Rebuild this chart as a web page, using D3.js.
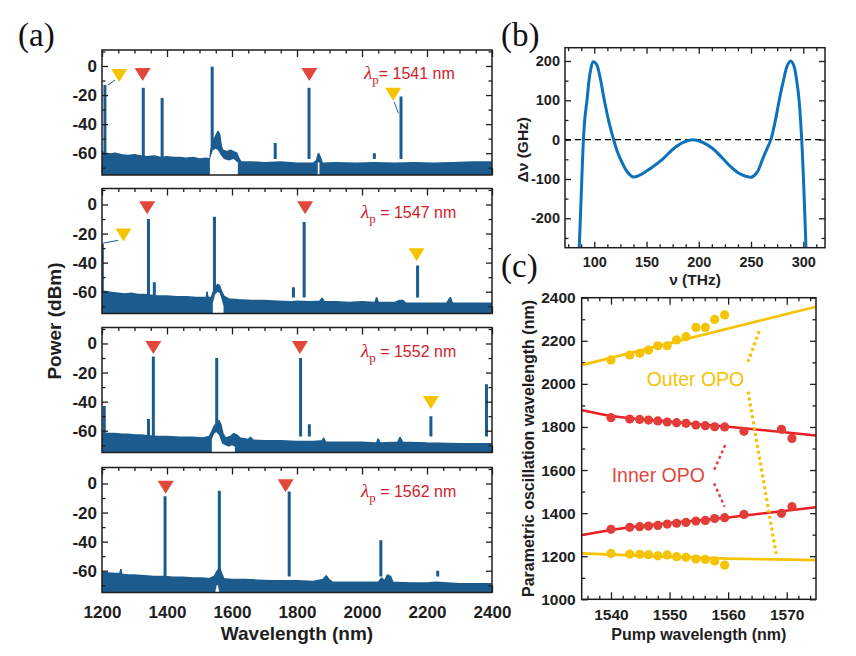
<!DOCTYPE html>
<html>
<head>
<meta charset="utf-8">
<script src="https://cdn.jsdelivr.net/npm/d3@7"></script>
<style>
  body { margin: 0; background: #fff; }
  svg text { font-family: "Liberation Sans", Arial, sans-serif; }
</style>
</head>
<body>
<script>
// ---------- panel (a): spectra, one set of arrays per pump wavelength ----------
var pumpLabels = ["= 1541 nm", " = 1547 nm", " = 1552 nm", " = 1562 nm"];

// noise floor upper envelope [wavelength nm, dBm]
var floor1 = [[1200,-59],[1210,-60],[1225,-60.5],[1240,-60],[1260,-61],[1280,-61.5],[1300,-61],[1320,-62],[1340,-62.5],[1360,-62],[1380,-63],[1400,-62.5],[1420,-63],[1440,-63],[1460,-63.5],[1480,-63],[1500,-64],[1520,-63.5],[1532,-64],[1535,-58],[1541,-52],[1550,-48],[1557,-45],[1562,-47],[1567,-55],[1572,-58],[1585,-59],[1595,-58],[1605,-59],[1615,-60],[1622,-64],[1628,-66],[1660,-66],[1700,-66.5],[1750,-66],[1800,-67],[1850,-67],[1860,-65],[1866,-60],[1872,-63],[1878,-67],[1920,-66.5],[1980,-67],[2040,-66.5],[2100,-67],[2160,-66.5],[2220,-67],[2280,-66.5],[2340,-66],[2400,-66]];
var floor2 = [[1200,-59.5],[1215,-60],[1230,-60.5],[1250,-61],[1270,-61.5],[1290,-61],[1310,-62],[1330,-62],[1350,-62.5],[1370,-63],[1400,-63],[1430,-63.5],[1460,-63.5],[1490,-64],[1515,-64],[1521,-64],[1523,-60],[1526,-64],[1536,-64],[1541,-61],[1548,-57],[1556,-55],[1562,-56],[1568,-60],[1575,-63],[1590,-65],[1620,-65.5],[1660,-66],[1700,-66],[1740,-66.5],[1780,-67],[1800,-66.5],[1840,-67],[1870,-66.5],[1877,-64.5],[1884,-67],[1920,-67],[1960,-67.5],[2000,-67],[2040,-67.5],[2045,-64],[2050,-67.5],[2100,-67.5],[2115,-66],[2125,-66],[2135,-68],[2200,-68],[2260,-68],[2272,-64],[2278,-68],[2340,-68],[2400,-68]];
var floor3 = [[1200,-61.5],[1220,-62],[1240,-62],[1260,-62.5],[1280,-62.5],[1300,-63],[1320,-63],[1340,-63.5],[1370,-64],[1400,-64],[1440,-64.5],[1480,-64.5],[1510,-65],[1530,-64],[1537,-61],[1545,-57],[1552,-55],[1560,-53],[1566,-56],[1572,-62],[1580,-65],[1595,-64],[1605,-62],[1615,-63],[1625,-65],[1650,-66],[1657,-64.5],[1665,-66.5],[1700,-67],[1750,-67],[1800,-67.5],[1850,-67.5],[1878,-67],[1882,-65],[1888,-68],[1950,-68],[2000,-68],[2045,-68.5],[2050,-65.5],[2055,-68.5],[2110,-68],[2117,-64.5],[2125,-68],[2200,-68.5],[2300,-69],[2400,-69]];
var floor4 = [[1200,-61],[1220,-61.5],[1240,-62],[1255,-62],[1258,-59],[1261,-62.5],[1280,-63],[1300,-63],[1330,-63.5],[1360,-64],[1390,-64],[1420,-64.5],[1450,-64.5],[1480,-65],[1510,-65],[1530,-65.5],[1545,-64],[1555,-60],[1562,-58],[1568,-62],[1575,-65.5],[1600,-66],[1640,-66],[1680,-66.5],[1720,-67],[1760,-67],[1800,-67],[1850,-67.5],[1880,-66],[1890,-63.5],[1898,-66],[1910,-68],[1960,-68],[2000,-68],[2050,-68],[2060,-65],[2070,-67],[2078,-63],[2088,-64],[2095,-68],[2150,-68.5],[2200,-68.5],[2228,-68],[2300,-69],[2400,-69]];

// white holes under the noise trace (top edge of the hole)
var gaps1 = [[[1532,-64],[1535,-62],[1541,-58],[1550,-57],[1557,-58],[1565,-61],[1575,-64],[1590,-65],[1605,-64],[1616,-66],[1618,-66]], [[1864,-67],[1866,-66],[1869,-67]]];
var gaps2 = [[[1541,-68],[1548,-62],[1556,-60],[1562,-61],[1568,-65],[1574,-70]]];
var gaps3 = [[[1538,-66],[1545,-62],[1552,-61],[1560,-63],[1570,-69],[1590,-71],[1600,-70],[1609,-71]]];
var gaps4 = [[[1549,-74],[1553,-70],[1557,-70],[1560,-74]]];

// narrow lines [wavelength nm, peak dBm]
var peaks1 = [[1209,-13],[1327,-15],[1385,-22],[1539,-0.5],[1733,-53],[1837,-15],[2038,-60],[2120,-21]];
var peaks2 = [[1201,-27],[1343,-10],[1361,-53.5],[1546,-8.5],[1789,-57],[1822,-12],[2171,-42]];
var peaks3 = [[1207,-43],[1343,-52],[1358,-9],[1553,-10],[1811,-10],[1838,-55.5],[2212,-50],[2263,-64],[2383,-28]];
var peaks4 = [[1394,-8.7],[1561,-5],[1776,-5.5],[2058,-39],[2233,-60]];

// triangle markers (tip position) and pointer lines
var red1 = [[1325,-10.3],[1838,-10.3]], yellow1 = [[1253,-11],[2096,-24]];
var red2 = [[1339,-6.7],[1825,-6.7]], yellow2 = [[1266,-25.4],[2168,-39]];
var red3 = [[1358,-7.3],[1809,-7.3]], yellow3 = [[2212,-45]];
var red4 = [[1396,-7],[1765,-6]], yellow4 = [];
var links1 = [[1240,-9.7,1219,-13],[2099,-24.6,2112,-32.6]];
var links2 = [[1250,-24.7,1204,-26.5]];

// ---------- panel (b): dispersion curve ----------
var nuTHz  = [85.6,87.5,89.6,91,93,96,99,102,105,109.6,114,118.5,122,126,131,137,143,150,158,166,175,185,194,203,213,223,231,238,245,251,256,261,265,269,273,277,281,285,288,291,294,296,298.5,300.5,302.6];
var dnuGHz = [-276,-140,0,55,100,170,198,192,165,100,45,0,-30,-55,-80,-95,-91,-80,-65,-48,-25,-7,0,-6,-22,-48,-70,-85,-93,-95,-82,-50,-25,0,45,100,150,190,200,188,145,100,0,-120,-276];

// ---------- panel (c): oscillation wavelengths ----------
var pumpOuter = [1540.0,1543.2,1544.9,1546.4,1548.0,1549.6,1551.2,1552.8,1554.5,1556.1,1557.7,1559.4];
var outerHi   = [2111,2134,2142,2157,2177,2177,2204,2219,2262,2262,2299,2320];
var outerLo   = [1213,1210,1209,1207,1202,1206,1198,1195,1187,1185,1178,1159];
var pumpInner = [1540.0,1543.2,1544.9,1546.4,1548.0,1549.6,1551.2,1552.8,1554.5,1556.1,1557.7,1559.4,1562.7,1569.1,1570.9];
var innerHi   = [1843,1837,1835,1832,1828,1823,1820,1817,1809,1806,1801,1800,1780,1789,1747];
var innerLo   = [1325,1334,1337,1340,1343,1349,1353,1357,1363,1366,1375,1379,1394,1399,1430];
var fitOuterHi = [[1535,2087],[1575,2358]];
var fitInnerHi = [[1535,1878],[1540,1852],[1550,1824],[1560,1801],[1575,1760]];
var fitInnerLo = [[1535,1298],[1540,1322],[1560,1380],[1575,1427]];
var fitOuterLo = [[1535,1213],[1550,1197],[1560,1189],[1575,1182]];
var guideOuter = [[1565.3,2245,1563.4,2103],[1563.4,1964,1568.2,1210]];
var guideInner = [[1559.5,1716,1557.6,1600],[1557.6,1538,1559.4,1430]];

var blue = "#1c5b8d", red = "#e2483a", yellow = "#f5c300", labelRed = "#d0212b";
var ink = "#1e1e1e";

var svg = d3.select("body").append("svg")
    .attr("width", 856)
    .attr("height", 656)
    .style("background", "#fff");

// inward ticks on one side; labels optional
function tickSide(g, scale, side, vals, size, w, h, fmt, fs, pad) {
    var make = { bottom: d3.axisBottom, top: d3.axisTop, left: d3.axisLeft, right: d3.axisRight }[side];
    var ax = make(scale).tickValues(vals).tickSizeInner(-size).tickSizeOuter(0)
        .tickPadding(pad || 0).tickFormat(fmt || "");
    var t = g.append("g")
        .attr("transform", side == "bottom" ? "translate(0," + h + ")" : side == "right" ? "translate(" + w + ",0)" : null)
        .call(ax);
    t.select(".domain").remove();
    t.selectAll("line").attr("stroke", ink).attr("stroke-width", 1.3);
    t.selectAll("text").attr("font-size", fs).attr("font-weight", "bold").attr("fill", ink)
        .style("font-family", "'Liberation Sans', Arial, sans-serif");
    return t;
}
function minors(lo, hi, step, majorStep) {
    return d3.range(lo, hi + 1e-9, step).filter(function (v) { return Math.abs(v / majorStep - Math.round(v / majorStep)) > 1e-6; });
}
var str = function (d) { return String(d); };

// ---------- (a) ----------
var A = { left: 102, w: 390, h: 125, tops: [50, 188.5, 327.5, 467.5] };
var xA = d3.scaleLinear().domain([1200, 2400]).range([0, A.w]);
var yA = d3.scaleLinear().domain([-75, 11]).range([A.h, 0]);
var spectra = [
    { floor: floor1, gaps: gaps1, peaks: peaks1, red: red1, yellow: yellow1, links: links1 },
    { floor: floor2, gaps: gaps2, peaks: peaks2, red: red2, yellow: yellow2, links: links2 },
    { floor: floor3, gaps: gaps3, peaks: peaks3, red: red3, yellow: yellow3, links: [] },
    { floor: floor4, gaps: gaps4, peaks: peaks4, red: red4, yellow: yellow4, links: [] }
];
var xMajA = d3.range(1200, 2401, 200), xMinA = minors(1200, 2400, 50, 200);
var yMajA = [-60, -40, -20, 0], yMinA = [-70, -50, -30, -10, 10];

svg.append("defs").append("clipPath").attr("id", "clipA")
    .append("rect").attr("width", A.w).attr("height", A.h);

var floorArea = d3.area()
    .x(function (d) { return xA(d[0]); })
    .y0(yA(-80))
    .y1(function (d) { return yA(d[1]); });
var tri = "M-8,-13L8,-13L0,0Z";

spectra.forEach(function (s, i) {
    var g = svg.append("g").attr("transform", "translate(" + A.left + "," + A.tops[i] + ")");
    var last = i == 3;
    // bottom ticks sit under the trace
    tickSide(g, xA, "bottom", xMajA, 7, A.w, A.h, last ? str : "", 17, 13);
    tickSide(g, xA, "bottom", xMinA, 3.5, A.w, A.h);

    var plot = g.append("g").attr("clip-path", "url(#clipA)");
    plot.append("path").datum(s.floor)
        .attr("d", floorArea).attr("fill", blue)
        .attr("stroke", blue).attr("stroke-width", 1.5).attr("stroke-linejoin", "bevel");
    plot.selectAll(".peak").data(s.peaks).enter().append("line")
        .attr("x1", function (d) { return xA(d[0]); })
        .attr("x2", function (d) { return xA(d[0]); })
        .attr("y1", function (d) { return yA(d[1]); })
        .attr("y2", yA(-64))
        .attr("stroke", blue).attr("stroke-width", 3);
    s.gaps.forEach(function (gp) {
        plot.append("path").datum(gp).attr("d", floorArea).attr("fill", "#fff");
    });
    plot.selectAll(".link").data(s.links).enter().append("line")
        .attr("x1", function (d) { return xA(d[0]); })
        .attr("y1", function (d) { return yA(d[1]); })
        .attr("x2", function (d) { return xA(d[2]); })
        .attr("y2", function (d) { return yA(d[3]); })
        .attr("stroke", blue).attr("stroke-width", 1);

    g.selectAll(".tr").data(s.red).enter().append("path")
        .attr("d", tri).attr("fill", red)
        .attr("transform", function (d) { return "translate(" + xA(d[0]) + "," + yA(d[1]) + ")"; });
    g.selectAll(".ty").data(s.yellow).enter().append("path")
        .attr("d", tri).attr("fill", yellow)
        .attr("transform", function (d) { return "translate(" + xA(d[0]) + "," + yA(d[1]) + ")"; });

    tickSide(g, xA, "top", xMajA, 7, A.w, A.h);
    tickSide(g, xA, "top", xMinA, 3.5, A.w, A.h);
    tickSide(g, yA, "left", yMajA, 6, A.w, A.h, str, 17, 5);
    tickSide(g, yA, "left", yMinA, 3.5, A.w, A.h);
    tickSide(g, yA, "right", yMajA, 6, A.w, A.h);
    tickSide(g, yA, "right", yMinA, 3.5, A.w, A.h);
    g.append("rect").attr("width", A.w).attr("height", A.h)
        .attr("fill", "none").attr("stroke", ink).attr("stroke-width", 1.5);

    var lab = g.append("text").attr("x", i == 0 ? 262 : 259).attr("y", 29).attr("fill", labelRed);
    lab.append("tspan").text("λ")
        .style("font-family", "'Liberation Serif', 'Times New Roman', serif")
        .attr("font-style", "italic").attr("font-size", 19);
    lab.append("tspan").text("p").attr("dy", 5)
        .style("font-family", "'Liberation Serif', 'Times New Roman', serif").attr("font-size", 13);
    lab.append("tspan").text(pumpLabels[i]).attr("dy", -5).attr("font-size", 16)
        .style("white-space", "pre");
});

svg.append("text").attr("transform", "translate(61,321) rotate(-90)")
    .attr("text-anchor", "middle").attr("font-size", 19).attr("font-weight", "bold").attr("fill", ink)
    .text("Power (dBm)");
svg.append("text").attr("x", A.left + A.w / 2).attr("y", 640)
    .attr("text-anchor", "middle").attr("font-size", 19).attr("font-weight", "bold").attr("fill", ink)
    .text("Wavelength (nm)");

// ---------- (b) ----------
var B = { left: 565, top: 47.7, w: 260, h: 200 };
var xB = d3.scaleLinear().domain([71.96, 320.8]).range([0, B.w]);
var yB = d3.scaleLinear().domain([-274.8, 233.8]).range([B.h, 0]);
var gB = svg.append("g").attr("transform", "translate(" + B.left + "," + B.top + ")");
gB.append("defs").append("clipPath").attr("id", "clipB")
    .append("rect").attr("width", B.w).attr("height", B.h);
var xMajB = d3.range(100, 301, 50), xMinB = minors(75, 312.5, 12.5, 50);
var yMajB = [-200, -100, 0, 100, 200], yMinB = [-250, -150, -50, 50, 150];
tickSide(gB, xB, "bottom", xMajB, 6, B.w, B.h, str, 14.5, 9);
tickSide(gB, xB, "bottom", xMinB, 3.5, B.w, B.h);
tickSide(gB, xB, "top", xMajB, 6, B.w, B.h);
tickSide(gB, xB, "top", xMinB, 3.5, B.w, B.h);
tickSide(gB, yB, "left", yMajB, 6, B.w, B.h, str, 14.5, 5);
tickSide(gB, yB, "left", yMinB, 3.5, B.w, B.h);
tickSide(gB, yB, "right", yMajB, 6, B.w, B.h);
tickSide(gB, yB, "right", yMinB, 3.5, B.w, B.h);
gB.append("line").attr("x1", 0).attr("x2", B.w).attr("y1", yB(0)).attr("y2", yB(0))
    .attr("stroke", "#000").attr("stroke-width", 1.3).attr("stroke-dasharray", "6,4");
gB.append("path").datum(d3.zip(nuTHz, dnuGHz))
    .attr("clip-path", "url(#clipB)")
    .attr("d", d3.line().x(function (d) { return xB(d[0]); }).y(function (d) { return yB(d[1]); }).curve(d3.curveCatmullRom))
    .attr("fill", "none").attr("stroke", "#0b72bb").attr("stroke-width", 3);
gB.append("rect").attr("width", B.w).attr("height", B.h)
    .attr("fill", "none").attr("stroke", ink).attr("stroke-width", 1.5);
gB.append("text").attr("x", B.w / 2).attr("y", 237.5)
    .attr("text-anchor", "middle").attr("font-size", 15.5).attr("font-weight", "bold").attr("fill", ink)
    .text("ν (THz)");
gB.append("text").attr("transform", "translate(-37," + (B.h / 2 + 2) + ") rotate(-90)")
    .attr("text-anchor", "middle").attr("font-size", 15.5).attr("font-weight", "bold").attr("fill", ink)
    .text("Δν (GHz)");

// ---------- (c) ----------
var C = { left: 581.7, top: 297.7, w: 234.3, h: 301.6 };
var xC = d3.scaleLinear().domain([1535, 1575]).range([0, C.w]);
var yC = d3.scaleLinear().domain([1000, 2400]).range([C.h, 0]);
var gC = svg.append("g").attr("transform", "translate(" + C.left + "," + C.top + ")");
var xMajC = [1540, 1550, 1560, 1570], xMinC = minors(1536, 1574, 2, 10);
var yMajC = d3.range(1000, 2401, 200), yMinC = minors(1100, 2300, 100, 200);
tickSide(gC, xC, "bottom", xMajC, 7, C.w, C.h, str, 15.5, 10);
tickSide(gC, xC, "bottom", xMinC, 3.5, C.w, C.h);
tickSide(gC, xC, "top", xMajC, 7, C.w, C.h);
tickSide(gC, xC, "top", xMinC, 3.5, C.w, C.h);
tickSide(gC, yC, "left", yMajC, 6, C.w, C.h, str, 15.5, 6);
tickSide(gC, yC, "left", yMinC, 3.5, C.w, C.h);
tickSide(gC, yC, "right", yMajC, 6, C.w, C.h);
tickSide(gC, yC, "right", yMinC, 3.5, C.w, C.h);

var lineC = d3.line().x(function (d) { return xC(d[0]); }).y(function (d) { return yC(d[1]); }).curve(d3.curveMonotoneX);
[[fitOuterHi, yellow], [fitOuterLo, yellow], [fitInnerHi, "#ec1f24"], [fitInnerLo, "#ec1f24"]].forEach(function (f) {
    gC.append("path").datum(f[0]).attr("d", lineC)
        .attr("fill", "none").attr("stroke", f[1]).attr("stroke-width", 2.6);
});
[[guideOuter, yellow, 3.2], [guideInner, "#e04a4a", 2.6]].forEach(function (f) {
    gC.selectAll(null).data(f[0]).enter().append("line")
        .attr("x1", function (d) { return xC(d[0]); })
        .attr("y1", function (d) { return yC(d[1]); })
        .attr("x2", function (d) { return xC(d[2]); })
        .attr("y2", function (d) { return yC(d[3]); })
        .attr("stroke", f[1]).attr("stroke-width", f[2]).attr("stroke-dasharray", "3,3");
});
function dots(px, py, col) {
    gC.selectAll(null).data(d3.zip(px, py)).enter().append("circle")
        .attr("cx", function (d) { return xC(d[0]); })
        .attr("cy", function (d) { return yC(d[1]); })
        .attr("r", 4.6).attr("fill", col);
}
dots(pumpOuter, outerHi, yellow);
dots(pumpOuter, outerLo, yellow);
dots(pumpInner, innerHi, "#e23d38");
dots(pumpInner, innerLo, "#e23d38");
gC.append("rect").attr("width", C.w).attr("height", C.h)
    .attr("fill", "none").attr("stroke", ink).attr("stroke-width", 1.5);
gC.append("text").attr("x", 65).attr("y", 88).attr("font-size", 19.5).attr("fill", yellow).text("Outer OPO");
gC.append("text").attr("x", 30).attr("y", 184).attr("font-size", 19.5).attr("fill", "#e0463c").text("Inner OPO");
gC.append("text").attr("x", C.w / 2).attr("y", 342)
    .attr("text-anchor", "middle").attr("font-size", 16).attr("font-weight", "bold").attr("fill", ink)
    .text("Pump wavelength (nm)");
gC.append("text").attr("transform", "translate(-48," + C.h / 2 + ") rotate(-90)")
    .attr("text-anchor", "middle").attr("font-size", 16).attr("font-weight", "bold").attr("fill", ink)
    .text("Parametric oscillation wavelength (nm)");

// panel letters
[["(a)", 18, 46], ["(b)", 501, 46], ["(c)", 501, 277]].forEach(function (p) {
    svg.append("text").attr("x", p[1]).attr("y", p[2]).attr("font-size", 33).attr("fill", "#111")
        .style("font-family", "'Liberation Serif', 'Times New Roman', serif").text(p[0]);
});
</script>
</body>
</html>
